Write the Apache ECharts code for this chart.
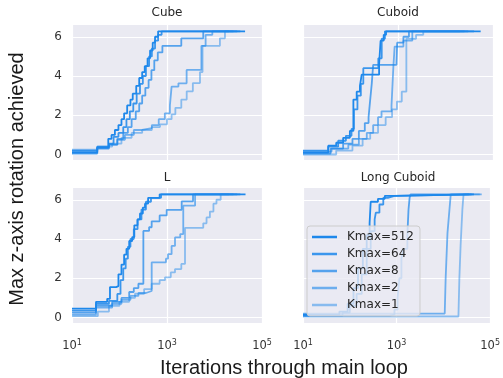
<!DOCTYPE html>
<html><head><meta charset="utf-8">
<script src="https://cdn.jsdelivr.net/npm/echarts@6/dist/echarts.min.js"></script>
<style>html,body{margin:0;padding:0;background:#fff}#c{width:503px;height:378px}</style>
</head><body><div id="c"></div>
<script>
const panelTitles = ['Cube', 'Cuboid', 'L', 'Long Cuboid'];
const kmaxNames = ['Kmax=512', 'Kmax=64', 'Kmax=8', 'Kmax=2', 'Kmax=1'];
const xTicks = [10, 1000, 100000];
const yTicks = [0, 2, 4, 6];

// Cube
const cube512 = [[10,0.1],[34,0.35],[58,0.8],[68,1.0],[80,1.25],[95,1.5],[110,1.8],[125,2.1],[145,2.5],[170,2.8],[190,3.1],[225,3.5],[260,3.9],[300,4.2],[340,4.5],[390,4.9],[440,5.3],[500,5.7],[560,6.0],[650,6.28],[44000,6.28]];
const cube64 = [[10,0.2],[34,0.4],[60,0.55],[75,0.9],[95,1.1],[120,1.4],[140,1.8],[165,2.2],[195,2.6],[230,3.1],[270,3.6],[310,4.0],[360,4.5],[420,5.0],[480,5.4],[560,5.8],[650,6.1],[770,6.28],[35000,6.28]];
const cube8 = [[10,0.05],[34,0.3],[60,0.5],[90,0.8],[120,1.1],[150,1.4],[180,1.8],[220,2.2],[260,2.6],[300,3.0],[350,3.4],[410,3.8],[470,4.3],[540,4.8],[640,5.2],[800,5.54],[2000,5.92],[5800,6.28],[30000,6.28]];
const cube2 = [[10,0.15],[34,0.35],[60,0.5],[90,0.75],[130,1.0],[200,1.25],[300,1.35],[480,1.5],[670,1.8],[900,2.1],[1150,2.5],[1250,3.46],[1740,3.63],[2590,4.31],[5300,5.54],[6500,6.1],[9000,6.28],[25000,6.28]];
const cube1 = [[10,0.25],[34,0.4],[70,0.55],[110,0.85],[180,1.1],[300,1.25],[480,1.4],[712,1.54],[1000,1.8],[1250,2.05],[1500,2.38],[2000,2.8],[2600,3.22],[3500,3.64],[4950,4.2],[5600,5.54],[13000,5.92],[16600,6.28],[20000,6.28]];

// Cuboid
const cuboid512 = [[10,0.1],[34,0.45],[50,0.6],[70,0.85],[97,1.2],[115,2.8],[135,3.2],[158,3.5],[172,4.07],[400,4.6],[430,5.8],[500,6.1],[560,6.28],[55000,6.28]];
const cuboid64 = [[10,0.2],[34,0.4],[55,0.7],[80,0.95],[105,1.3],[118,2.3],[140,3.0],[165,3.6],[186,4.4],[385,4.9],[454,5.9],[530,6.28],[40000,6.28]];
const cuboid8 = [[10,0.05],[38,0.3],[70,0.55],[110,0.8],[150,1.2],[200,1.6],[240,1.9],[260,2.8],[280,3.6],[300,4.57],[930,4.7],[960,5.7],[1300,6.0],[1700,6.28],[30000,6.28]];
const cuboid2 = [[10,0.15],[40,0.3],[90,0.5],[150,0.8],[220,1.1],[300,1.5],[380,1.9],[450,2.2],[730,2.5],[800,4.5],[850,5.5],[1300,5.8],[2000,6.28],[25000,6.28]];
const cuboid1 = [[10,0.0],[50,0.2],[110,0.45],[180,0.8],[260,1.1],[380,1.5],[550,1.9],[750,2.3],[950,2.7],[1200,3.2],[1500,5.9],[2400,6.1],[3400,6.28],[20000,6.28]];

// L
const l512 = [[10,0.45],[32,0.8],[55,0.95],[63,1.55],[85,1.6],[95,2.2],[110,2.7],[125,3.2],[140,3.5],[160,3.9],[185,4.1],[205,4.7],[240,5.0],[270,5.3],[310,5.6],[344,5.8],[400,6.1],[700,6.28],[45000,6.28]];
const l64 = [[10,0.35],[32,0.7],[60,0.85],[90,1.2],[105,1.9],[120,2.5],[135,3.0],[150,3.6],[170,4.0],[200,4.5],[240,5.0],[290,5.5],[360,5.9],[460,6.1],[750,6.28],[35000,6.28]];
const l8 = [[10,0.25],[32,0.6],[70,0.8],[110,1.0],[160,1.3],[200,1.5],[250,1.72],[318,4.41],[420,4.6],[476,4.9],[700,5.2],[985,5.49],[2040,5.92],[3530,6.28],[30000,6.28]];
const l2 = [[10,0.15],[32,0.5],[70,0.7],[110,0.9],[170,1.1],[250,1.25],[360,1.35],[476,2.81],[950,3.0],[1050,3.23],[1250,3.65],[1474,4.08],[1900,4.25],[2200,5.7],[3900,6.28],[25000,6.28]];
const l1 = [[10,0.07],[35,0.3],[60,0.6],[100,0.8],[160,1.0],[212,1.21],[330,1.45],[476,1.72],[700,1.9],[908,2.05],[1200,2.3],[1474,2.47],[2000,2.73],[2393,4.57],[5800,4.8],[6800,5.1],[8000,5.4],[9500,5.8],[11000,6.0],[13500,6.28],[20000,6.28]];

// Long Cuboid
const long512 = [[10,0.15],[60,0.3],[90,0.7],[120,1.5],[150,2.5],[190,3.5],[230,4.2],[265,4.8],[280,5.9],[400,6.05],[560,6.2],[900,6.28],[45000,6.28]];
const long64 = [[10,0.1],[70,0.25],[100,0.6],[140,1.2],[180,2.2],[230,3.5],[280,4.4],[340,5.0],[360,5.34],[430,5.76],[520,6.1],[650,6.2],[900,6.28],[40000,6.28]];
const long8 = [[10,0.1],[700,0.15],[900,0.4],[1050,1.0],[1150,2.0],[1270,3.0],[1400,3.5],[1700,4.2],[1800,5.5],[1900,6.1],[2000,6.28],[35000,6.28]];
const long2 = [[10,0.2],[10700,0.2],[11200,2.0],[12250,4.3],[13500,5.5],[14400,6.28],[66000,6.28]];
const long1 = [[10,0.05],[21000,0.05],[22000,2.0],[23400,3.7],[25500,5.5],[27000,6.28],[60000,6.28]];

const panelSeries = [
  [cube512, cube64, cube8, cube2, cube1],
  [cuboid512, cuboid64, cuboid8, cuboid2, cuboid1],
  [l512, l64, l8, l2, l1],
  [long512, long64, long8, long2, long1]
];
const kmaxColors = ['rgba(30,136,235,1)','rgba(30,136,235,0.86)','rgba(30,136,235,0.73)','rgba(30,136,235,0.61)','rgba(30,136,235,0.48)'];

const gridPos = [
  {left: 72, top: 25, width: 190, height: 135},
  {left: 303, top: 25, width: 190, height: 135},
  {left: 72, top: 188, width: 190, height: 135},
  {left: 303, top: 188, width: 190, height: 135}
];
const titlePos = [[167, 13], [398, 13], [167, 178], [398, 177.5]];

const grids = [], xAxes = [], yAxes = [], series = [], graphics = [];
gridPos.forEach((g, i) => {
  grids.push(Object.assign({show: true, backgroundColor: '#EAEAF2', borderWidth: 0, containLabel: false}, g));
  const bottomRow = i >= 2, leftCol = (i % 2) === 0;
  xAxes.push({
    type: 'log', gridIndex: i, min: 10, max: 100000, logBase: 10,
    axisLine: {show: false},
    axisTick: {show: false, customValues: xTicks},
    splitLine: {show: true, lineStyle: {color: '#ffffff', width: 1.2}},
    axisLabel: {
      show: bottomRow, customValues: xTicks, margin: 16,
      formatter: v => '{b|10}{s|' + Math.round(Math.log10(v)) + '}',
      rich: {
        b: {fontFamily: 'DejaVu Sans', fontSize: 11.5, color: '#333333', lineHeight: 15},
        s: {fontFamily: 'DejaVu Sans', fontSize: 8, color: '#333333', verticalAlign: 'top', lineHeight: 15}
      }
    }
  });
  yAxes.push({
    type: 'value', gridIndex: i, min: -0.28, max: 6.6,
    axisLine: {show: false},
    axisTick: {show: false, customValues: yTicks},
    splitLine: {show: true, lineStyle: {color: '#ffffff', width: 1.2}},
    axisLabel: {show: leftCol, customValues: yTicks, margin: 10, fontFamily: 'DejaVu Sans', fontSize: 12, color: '#333333'}
  });
  panelSeries[i].forEach((d, k) => {
    series.push({
      name: kmaxNames[k], type: 'line', step: 'end', xAxisIndex: i, yAxisIndex: i,
      data: d, showSymbol: false, symbol: 'none', silent: true,
      color: kmaxColors[k],
      lineStyle: {width: 1.8, color: kmaxColors[k]},
      itemStyle: {color: kmaxColors[k]}
    });
  });
  graphics.push({
    type: 'text', x: titlePos[i][0], y: titlePos[i][1],
    style: {text: panelTitles[i], font: '12px "DejaVu Sans"', fill: '#262626', textAlign: 'center', textVerticalAlign: 'middle'}
  });
});
graphics.push({
  type: 'text', x: 284, y: 368,
  style: {text: 'Iterations through main loop', font: '20px "Liberation Sans"', fill: '#1a1a1a', textAlign: 'center', textVerticalAlign: 'middle'}
});
graphics.push({
  type: 'text', x: 17, y: 179, rotation: Math.PI / 2,
  style: {text: 'Max z-axis rotation achieved', font: '20px "Liberation Sans"', fill: '#1a1a1a', textAlign: 'center', textVerticalAlign: 'middle'}
});

const chart = echarts.init(document.getElementById('c'), null, {renderer: 'canvas'});
chart.setOption({
  animation: false,
  backgroundColor: '#ffffff',
  grid: grids, xAxis: xAxes, yAxis: yAxes, series: series,
  legend: {
    data: kmaxNames, orient: 'vertical', left: 307, top: 226,
    icon: 'rect', itemWidth: 25, itemHeight: 2.5, itemGap: 3,
    padding: [4, 6, 4, 5],
    backgroundColor: 'rgba(234,234,242,0.8)', borderColor: '#cccccc', borderWidth: 1, borderRadius: 3,
    selectedMode: false,
    textStyle: {fontFamily: 'DejaVu Sans', fontSize: 12, color: '#262626', lineHeight: 14, padding: [0, 0, 0, 5]}
  },
  graphic: graphics
});
</script></body></html>
